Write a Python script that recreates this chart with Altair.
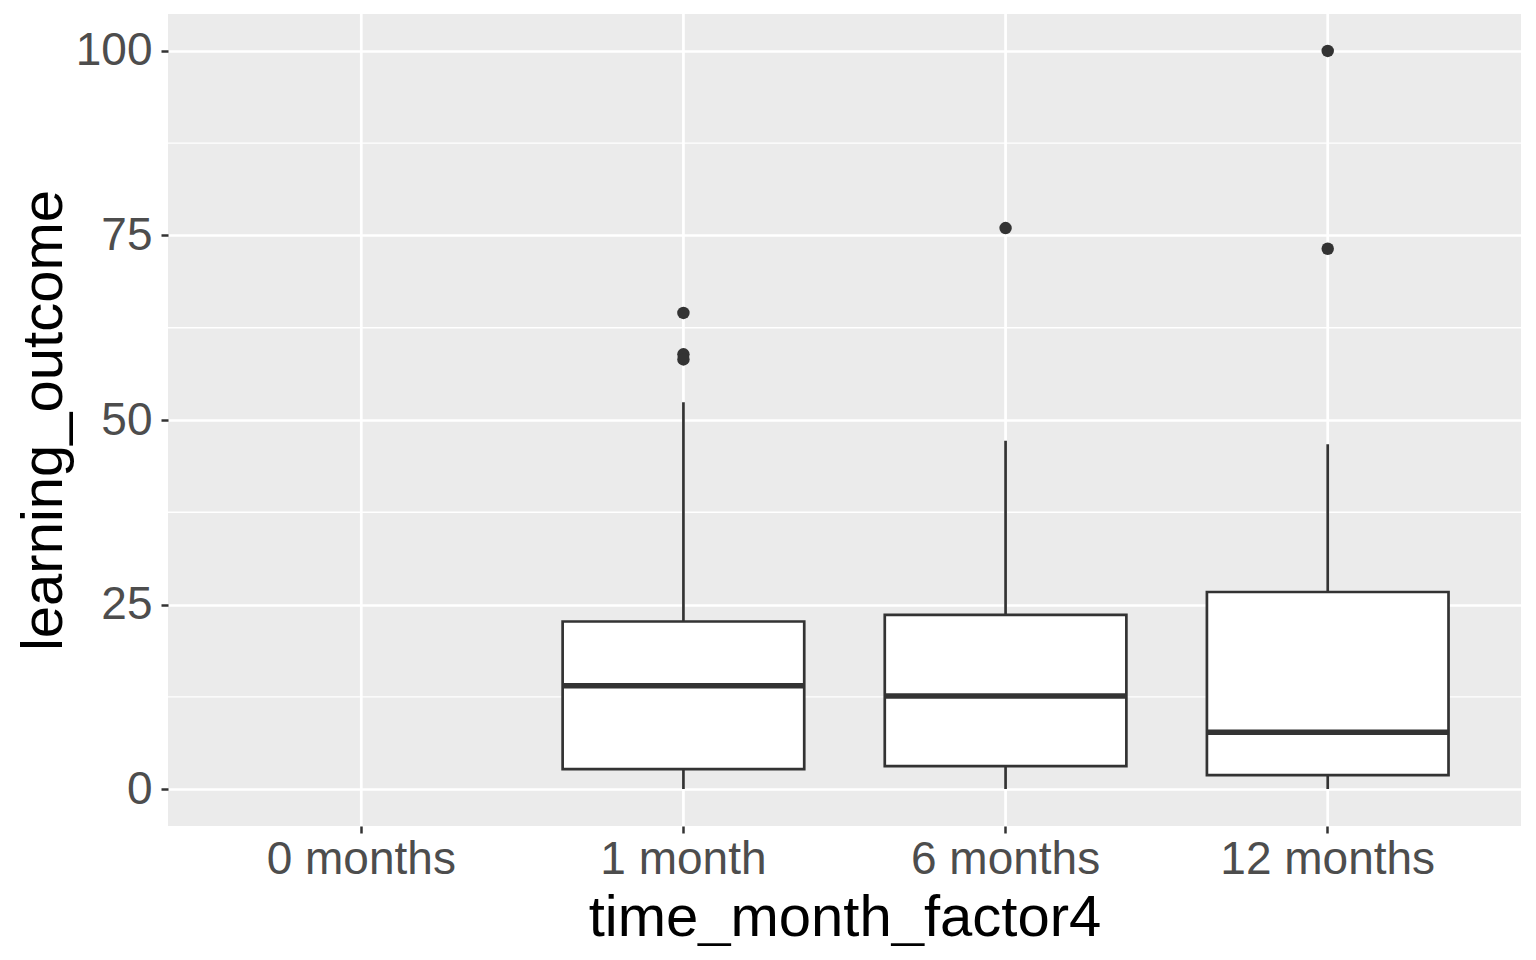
import altair as alt
import pandas as pd

# ---- data ----
categories = ["0 months", "1 month", "6 months", "12 months"]
box_cats = ["1 month", "6 months", "12 months"]
q1 = [2.7, 3.1, 1.9]
median = [14.0, 12.6, 7.7]
q3 = [22.7, 23.6, 26.7]
whisker_low = [0.0, 0.0, 0.0]
whisker_high = [52.4, 47.2, 46.7]
outlier_cats = ["1 month", "1 month", "1 month", "6 months", "12 months", "12 months"]
outlier_vals = [64.5, 58.9, 58.2, 76.0, 100.0, 73.2]
major_ticks = [0, 25, 50, 75, 100]
minor_ticks = [12.5, 37.5, 62.5, 87.5]

stats = pd.DataFrame({
    "time_month_factor4": box_cats,
    "q1": q1, "median": median, "q3": q3,
    "lo": whisker_low, "hi": whisker_high,
})
outliers = pd.DataFrame({"time_month_factor4": outlier_cats, "learning_outcome": outlier_vals})
minor_df = pd.DataFrame({"v": minor_ticks})
vgrid_df = pd.DataFrame({"time_month_factor4": categories})

W, H = 1353, 812
FONT = "Liberation Sans"
INK = "#333333"

xscale = alt.Scale(domain=categories, paddingInner=0, paddingOuter=0.1)
yscale = alt.Scale(domain=[-5, 105], nice=False, zero=False)

xaxis = alt.Axis(
    title="time_month_factor4", labelAngle=0, grid=False, domain=False,
    tickSize=7, tickWidth=2.5, tickColor=INK, labelLimit=0,
    labelFontSize=46, labelColor="#4D4D4D", labelFont=FONT, labelPadding=40,
    labelBaseline="alphabetic",
    titleFontSize=58, titleFont=FONT, titleFontWeight="normal", titleColor="black",
    titleY=109, titleBaseline="alphabetic",
)
yaxis = alt.Axis(
    title="learning_outcome", values=major_ticks, grid=True, gridColor="white", gridWidth=2.7,
    domain=False, tickSize=7, tickWidth=2.5, tickColor=INK, labelLimit=0,
    labelFontSize=46, labelColor="#4D4D4D", labelFont=FONT, labelPadding=9,
    titleFontSize=58, titleFont=FONT, titleFontWeight="normal", titleColor="black",
    titleAngle=270, titleX=-107, titleY=H / 2, titleBaseline="alphabetic", titleAlign="center",
)

minor = alt.Chart(minor_df).mark_rule(color="white", strokeWidth=1.3).encode(
    y=alt.Y("v:Q", scale=yscale, axis=yaxis)
)
vgrid = alt.Chart(vgrid_df).mark_rule(color="white", strokeWidth=2.7).encode(
    x=alt.X("time_month_factor4:N", scale=xscale, axis=xaxis)
)
whisk = alt.Chart(stats).mark_rule(color=INK, strokeWidth=2.7).encode(
    x=alt.X("time_month_factor4:N", scale=xscale, axis=xaxis),
    y=alt.Y("lo:Q", scale=yscale, axis=yaxis),
    y2="hi:Q",
)
box = alt.Chart(stats).mark_bar(
    fill="white", stroke=INK, strokeWidth=2.7, width=alt.RelativeBandSize(0.75)
).encode(
    x=alt.X("time_month_factor4:N", scale=xscale, axis=xaxis),
    y=alt.Y("q1:Q", scale=yscale, axis=yaxis),
    y2="q3:Q",
)
med = alt.Chart(stats).mark_tick(color=INK, thickness=5.5, size=241, opacity=1).encode(
    x=alt.X("time_month_factor4:N", scale=xscale, axis=xaxis),
    y=alt.Y("median:Q", scale=yscale, axis=yaxis),
)
pts = alt.Chart(outliers).mark_circle(color=INK, size=155, opacity=1).encode(
    x=alt.X("time_month_factor4:N", scale=xscale, axis=xaxis),
    y=alt.Y("learning_outcome:Q", scale=yscale, axis=yaxis),
)

chart = alt.layer(minor, vgrid, whisk, box, med, pts).properties(
    width=W, height=H,
    autosize=alt.AutoSizeParams(type="none"),
    padding={"left": 160, "top": 6, "right": 5, "bottom": 120},
    background="white",
).configure_view(fill="#EBEBEB", strokeWidth=0)

chart.save("out.html", embed_options={"renderer": "svg", "actions": False})
